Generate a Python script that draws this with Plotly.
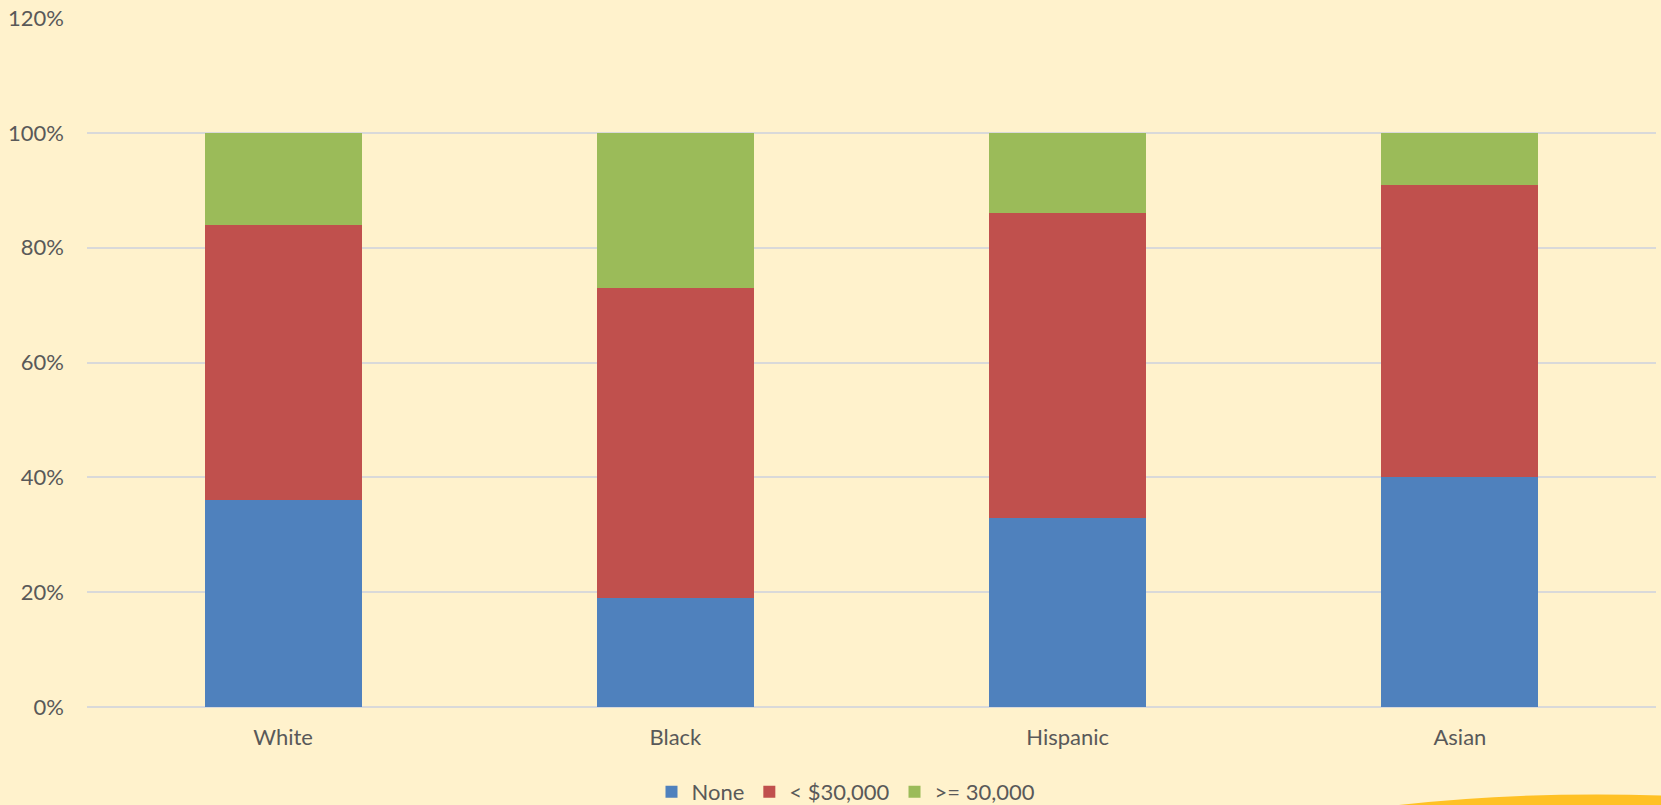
import plotly.graph_objects as go

categories = ["White", "Black", "Hispanic", "Asian"]
none_vals = [0.36, 0.19, 0.33, 0.40]
under_30k = [0.48, 0.54, 0.53, 0.51]
over_30k = [0.16, 0.27, 0.14, 0.09]
series_names = ["None", "< $30,000", ">= 30,000"]
colors = ["#4F81BD", "#C0504D", "#9BBB59"]

W, H = 1661, 805
L, R, T, B = 87, 5, 18, 98

fig = go.Figure()
for name, vals, col in zip(series_names, [none_vals, under_30k, over_30k], colors):
    fig.add_trace(go.Bar(x=categories, y=vals, name=name,
                         marker=dict(color=col, line=dict(width=0))))

pw = W - L - R
ph = H - T - B
def px_x(px):
    return (px - L) / pw
def px_y(py):
    return (H - B - py) / ph

# decorative swoosh bottom-right
path = (f"M {px_x(1390)},{px_y(806)} "
        f"Q {px_x(1520)},{px_y(791)} {px_x(1662)},{px_y(795.5)} "
        f"L {px_x(1662)},{px_y(806)} Z")
fig.add_shape(type="path", xref="paper", yref="paper", path=path,
              fillcolor="#FFC125", line=dict(width=0), layer="below")

fig.update_layout(
    width=W, height=H,
    margin=dict(l=L, r=R, t=T, b=B, autoexpand=False),
    barmode="stack",
    bargap=0.6,
    paper_bgcolor="#FFF2CC",
    plot_bgcolor="#FFF2CC",
    font=dict(family="Lato, 'Open Sans', sans-serif", size=22, color="#595959"),
    legend=dict(orientation="h", x=px_x(846), y=px_y(792), xanchor="center",
                yanchor="middle", font=dict(size=22, color="#595959"),
                itemwidth=30, bgcolor="rgba(0,0,0,0)", traceorder="normal"),
    showlegend=True,
)
fig.update_yaxes(range=[0, 1.2], dtick=0.2, tickformat=".0%",
                 showgrid=True, gridcolor="#D9D9D9", gridwidth=1.5,
                 zeroline=True, zerolinecolor="#D9D9D9", zerolinewidth=1.5,
                 showline=False, ticks="", ticklabelstandoff=22,
                 automargin=False,
                 tickfont=dict(size=22, color="#595959"))
fig.update_xaxes(showgrid=False, showline=False, ticks="",
                 ticklabelstandoff=15, automargin=False,
                 tickfont=dict(size=22, color="#595959"))

fig.write_html("out.html")
